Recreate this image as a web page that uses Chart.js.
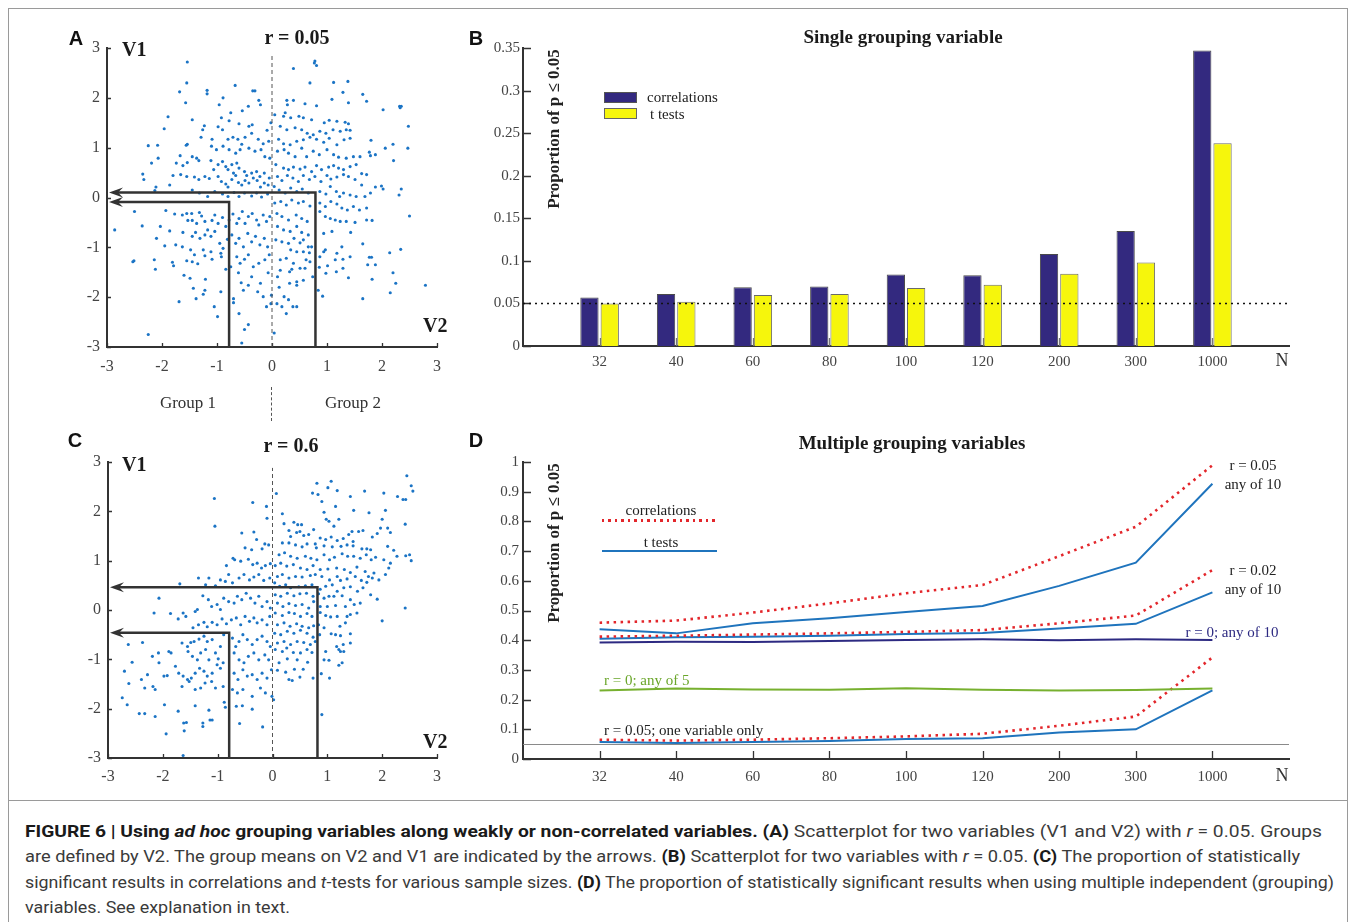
<!DOCTYPE html>
<html>
<head>
<meta charset="utf-8">
<script src="https://cdn.jsdelivr.net/npm/chart.js@4.4.1/dist/chart.umd.min.js"></script>
<style>
  body { margin: 0; background: #fff; width: 1355px; height: 922px; position: relative; overflow: hidden;
         font-family: 'Liberation Serif', 'Times New Roman', serif; color: #222; }
  canvas { position: absolute; }
  .t { position: absolute; white-space: nowrap; line-height: 1; }
  .c { transform: translate(-50%, -50%); }
  .l { transform: translateY(-50%); }
  .letter { font-family: 'Liberation Sans', Arial, sans-serif; font-weight: bold; font-size: 20px; color: #111; }
  .big { font-weight: bold; font-size: 20px; color: #1a1a1a; }
  .title { font-weight: bold; font-size: 19px; color: #1a1a1a; }
  .ytitle { font-weight: bold; font-size: 17px; color: #222; transform: translate(-50%, -50%) rotate(-90deg); }
  .note { font-size: 15px; color: #222; }
  .frame { position: absolute; border: 1px solid #9a9a9a; box-sizing: border-box; }
  .cap { position: absolute; left: 25px; white-space: nowrap; font-family: Roboto, 'Liberation Sans', sans-serif;
         font-size: 17px; color: #3a3a3a; transform-origin: 0 50%; transform: translateY(-50%); line-height: 1; }
  .cap b { color: #1a1a1a; }
</style>
</head>
<body>
<div class="frame" style="left:8px; top:8px; width:1340px; height:793px;"></div>
<div class="frame" style="left:8px; top:800px; width:1340px; height:140px;"></div>

<canvas id="chartA" width="400" height="370" style="left:60px; top:30px;"></canvas>
<canvas id="chartB" width="830" height="355" style="left:470px; top:30px;"></canvas>
<canvas id="chartC" width="400" height="355" style="left:60px; top:440px;"></canvas>
<canvas id="chartD" width="830" height="355" style="left:470px; top:440px;"></canvas>

<!-- panel A labels -->
<div class="t c letter" style="left:76px; top:38px;">A</div>
<div class="t c big" style="left:297px; top:37px;">r = 0.05</div>
<div class="t l big" style="left:122px; top:49px;">V1</div>
<div class="t l big" style="left:423px; top:325px;">V2</div>
<div class="t c" style="left:188px; top:402px; font-size:17px; color:#333;">Group 1</div>
<div class="t c" style="left:353px; top:402px; font-size:17px; color:#333;">Group 2</div>
<div style="position:absolute; left:271px; top:387px; height:34px; border-left:1px dashed #555;"></div>

<!-- panel C labels -->
<div class="t c letter" style="left:75px; top:440px;">C</div>
<div class="t c big" style="left:291px; top:445px;">r = 0.6</div>
<div class="t l big" style="left:122px; top:464px;">V1</div>
<div class="t l big" style="left:423px; top:741px;">V2</div>

<!-- panel B labels -->
<div class="t c letter" style="left:476px; top:38px;">B</div>
<div class="t c title" style="left:903px; top:36px;">Single grouping variable</div>
<div class="t ytitle" style="left:553px; top:129px;">Proportion of p ≤ 0.05</div>
<div style="position:absolute; left:604px; top:92px; width:31px; height:9px; background:#33297f; border:1px solid #555;"></div>
<div style="position:absolute; left:604px; top:108px; width:31px; height:9px; background:#f6f60c; border:1px solid #666;"></div>
<div class="t l note" style="left:647px; top:97px;">correlations</div>
<div class="t l note" style="left:650px; top:114px;">t tests</div>
<div class="t c" style="left:1282px; top:360px; font-size:18px; color:#333;">N</div>

<!-- panel D labels -->
<div class="t c letter" style="left:476px; top:440px;">D</div>
<div class="t c title" style="left:912px; top:442px;">Multiple grouping variables</div>
<div class="t ytitle" style="left:553px; top:543px;">Proportion of p ≤ 0.05</div>
<div class="t c note" style="left:661px; top:510px;">correlations</div>
<div style="position:absolute; left:602px; top:519px; width:114px; height:2.5px;
            background:repeating-linear-gradient(90deg, #e3262b 0 2.5px, transparent 2.5px 6.5px);"></div>
<div class="t c note" style="left:661px; top:542px;">t tests</div>
<div style="position:absolute; left:602px; top:550px; width:115px; height:2px; background:#1f74bd;"></div>
<div class="t c note" style="left:1253px; top:465px;">r = 0.05</div>
<div class="t c note" style="left:1253px; top:484px;">any of 10</div>
<div class="t c note" style="left:1253px; top:570px;">r = 0.02</div>
<div class="t c note" style="left:1253px; top:589px;">any of 10</div>
<div class="t c note" style="left:1232px; top:632px; color:#2d2a82;">r = 0; any of 10</div>
<div class="t l note" style="left:604px; top:680px; color:#6aa62a;">r = 0; any of 5</div>
<div class="t l note" style="left:604px; top:730px;">r = 0.05; one variable only</div>
<div class="t c" style="left:1282px; top:775px; font-size:18px; color:#333;">N</div>

<!-- caption -->
<div class="cap" data-w="1297" style="top:831px;"><b>FIGURE 6 | Using <i>ad hoc</i> grouping variables along weakly or non-correlated variables. (A)</b> Scatterplot for two variables (V1 and V2) with <i>r</i> = 0.05. Groups</div>
<div class="cap" data-w="1275" style="top:856px;">are defined by V2. The group means on V2 and V1 are indicated by the arrows. <b>(B)</b> Scatterplot for two variables with <i>r</i> = 0.05. <b>(C)</b> The proportion of statistically</div>
<div class="cap" data-w="1309" style="top:882px;">significant results in correlations and <i>t</i>-tests for various sample sizes. <b>(D)</b> The proportion of statistically significant results when using multiple independent (grouping)</div>
<div class="cap" data-w="265" style="top:907px;">variables. See explanation in text.</div>

<script>
// ---- data ----
const sampleSizes = ['32', '40', '60', '80', '100', '120', '200', '300', '1000'];
const alphaLevel = 0.05;

// panel B: proportion of p <= .05, single grouping variable
const corrSingle = [0.057, 0.061, 0.069, 0.070, 0.084, 0.083, 0.108, 0.135, 0.347];
const ttestSingle = [0.050, 0.052, 0.060, 0.061, 0.068, 0.072, 0.085, 0.098, 0.238];

// panel D: multiple grouping variables
const corrAny10r05 = [0.459, 0.466, 0.493, 0.524, 0.558, 0.586, 0.683, 0.782, 0.989];
const ttestAny10r05 = [0.437, 0.423, 0.457, 0.474, 0.495, 0.515, 0.583, 0.661, 0.927];
const corrAny10r02 = [0.412, 0.415, 0.419, 0.423, 0.428, 0.434, 0.457, 0.483, 0.636];
const ttestAny10r02 = [0.405, 0.410, 0.412, 0.415, 0.421, 0.424, 0.439, 0.455, 0.561];
const any10r0 = [0.392, 0.395, 0.394, 0.397, 0.401, 0.403, 0.400, 0.403, 0.401];
const any5r0 = [0.231, 0.237, 0.234, 0.233, 0.238, 0.233, 0.231, 0.232, 0.237];
const corrOneVar = [0.065, 0.062, 0.065, 0.070, 0.076, 0.085, 0.112, 0.143, 0.342];
const ttestOneVar = [0.057, 0.054, 0.057, 0.061, 0.067, 0.070, 0.089, 0.100, 0.231];

// group means [V2, V1] for group 1 and group 2
const meansA = [[-0.78, -0.09], [0.79, 0.10]];
const meansC = [[-0.79, -0.46], [0.82, 0.46]];

// panel A scatter (V2, V1), r = 0.05
const scatterA = [
[-1.54,2.72],[-1.55,2.30],[-1.68,2.12],[-1.18,2.15],[-1.18,2.08],[-0.67,2.25],[-0.35,2.14],[-0.31,2.14],[-1.57,1.90],[-0.96,1.86],[-0.89,2.00],[-0.24,1.95],[-0.21,1.86],[-0.43,1.83],[-1.89,1.62],[-1.96,1.38],[-1.45,1.56],[-1.23,1.44],[-0.75,1.70],[-0.54,1.74],[-0.92,1.60],[-0.78,1.54],[-0.60,1.48],[-0.42,1.43],[-0.36,1.46],[-0.09,1.35],[-0.02,1.50],[-2.25,1.04],[-2.08,1.05],[-2.07,0.79],[-2.19,0.69],[-1.56,1.05],[-1.54,1.07],[-1.67,0.84],[-1.62,0.64],[-1.45,0.82],[-1.37,0.79],[-1.26,1.36],[-1.29,1.21],[-1.09,1.17],[-0.98,1.42],[-0.90,1.36],[-0.80,1.17],[-0.71,1.21],[-0.62,1.17],[-0.55,1.07],[-0.49,1.21],[-0.37,1.29],[-0.25,1.17],[-0.16,1.08],[-0.06,1.13],[-1.10,1.03],[-1.01,0.96],[-0.89,1.03],[-0.78,0.96],[-0.66,0.89],[-0.58,0.96],[-0.42,0.99],[-0.31,0.93],[-0.20,0.96],[-0.13,0.82],[-0.04,0.79],[-1.74,0.69],[-1.54,0.70],[-1.33,0.74],[-1.11,0.74],[-1.06,0.56],[-0.98,0.66],[-0.90,0.72],[-0.84,0.62],[-0.80,0.56],[-0.73,0.66],[-0.70,0.49],[-0.64,0.69],[-0.60,0.59],[-0.50,0.52],[-0.46,0.44],[-0.37,0.49],[-0.28,0.52],[-0.22,0.42],[-0.14,0.49],[-0.05,0.39],[-2.35,0.47],[-2.33,0.36],[-2.11,0.21],[-1.86,0.25],[-1.80,0.44],[-1.66,0.46],[-1.55,0.42],[-1.41,0.41],[-1.33,0.36],[-1.22,0.42],[-1.14,0.38],[-0.98,0.42],[-0.92,0.32],[-0.84,0.27],[-0.80,0.21],[-0.73,0.36],[-0.66,0.44],[-0.61,0.30],[-0.55,0.25],[-0.49,0.34],[-0.42,0.29],[-0.34,0.39],[-0.27,0.34],[-0.21,0.21],[-0.14,0.29],[-0.07,0.25],[-2.13,0.14],[-1.45,0.15],[-1.32,0.09],[-1.17,0.02],[-1.04,0.12],[-0.90,0.07],[-0.80,0.02],[-0.69,0.10],[-0.60,0.02],[-0.50,0.09],[-0.37,0.03],[-0.28,0.09],[-0.19,0.01],[-0.08,0.07],
[-2.50,-0.28],[-2.86,-0.65],[-2.36,-0.57],[-2.10,-0.82],[-2.03,-0.58],[-1.93,-0.26],[-1.86,-0.67],[-1.77,-0.33],[-1.75,-0.95],[-1.95,-0.97],[-2.51,-1.27],[-2.14,-1.25],[-2.12,-1.44],[-1.81,-1.30],[-1.79,-1.37],[-1.63,-0.35],[-1.55,-0.32],[-1.53,-0.46],[-1.46,-0.32],[-1.45,-0.46],[-1.37,-0.52],[-1.32,-0.30],[-1.28,-0.37],[-1.22,-0.48],[-1.17,-0.65],[-1.09,-0.46],[-1.04,-0.35],[-0.98,-0.52],[-0.90,-0.40],[-0.84,-0.58],[-0.78,-0.45],[-0.71,-0.33],[-0.64,-0.52],[-0.60,-0.42],[-0.54,-0.28],[-0.49,-0.52],[-0.43,-0.38],[-0.36,-0.32],[-0.28,-0.45],[-0.24,-0.55],[-0.16,-0.35],[-0.10,-0.48],[-0.04,-0.38],[-1.62,-0.70],[-1.45,-0.78],[-1.39,-0.70],[-1.31,-0.82],[-1.22,-0.75],[-1.11,-0.78],[-1.04,-0.68],[-0.95,-0.92],[-0.89,-1.02],[-0.81,-0.84],[-0.73,-0.75],[-0.66,-0.92],[-0.60,-0.82],[-0.52,-0.99],[-0.44,-0.72],[-0.37,-0.89],[-0.30,-0.78],[-0.22,-0.95],[-0.14,-0.82],[-0.08,-0.99],[-1.48,-1.05],[-1.41,-1.15],[-1.63,-0.99],[-1.55,-1.27],[-1.45,-1.29],[-1.35,-1.33],[-1.25,-1.05],[-1.22,-1.17],[-1.11,-1.09],[-1.09,-1.24],[-0.93,-1.12],[-0.92,-1.19],[-0.84,-1.44],[-0.75,-1.39],[-0.64,-1.19],[-0.58,-1.32],[-0.50,-1.24],[-0.43,-1.15],[-0.34,-1.39],[-0.24,-1.32],[-0.13,-1.25],[-0.05,-1.15],[-1.60,-1.56],[-1.49,-1.62],[-1.43,-1.82],[-1.38,-2.03],[-1.25,-1.94],[-1.22,-1.86],[-1.21,-1.64],[-0.93,-1.89],[-0.61,-1.51],[-0.56,-1.71],[-0.52,-1.86],[-0.43,-1.76],[-0.37,-1.59],[-0.26,-1.89],[-0.21,-1.72],[-0.16,-1.99],[-0.07,-1.51],[-0.02,-2.13],[-1.69,-2.09],[-1.05,-2.19],[-0.99,-2.39],[-0.70,-2.03],[-0.70,-2.11],[-0.60,-2.33],[-0.50,-2.65],[-0.43,-2.55],[-0.55,-2.92],[-2.25,-2.75],[-0.10,-2.19],[-0.01,-1.96],[-2.53,-1.29],
[0.78,2.74],[0.81,2.65],[0.77,2.70],[0.39,2.59],[1.12,2.31],[1.38,2.33],[0.69,2.30],[1.29,2.11],[1.65,2.07],[1.72,1.93],[2.35,1.83],[2.33,1.80],[2.02,1.76],[0.27,1.95],[0.39,1.95],[0.28,1.86],[0.60,1.88],[0.81,1.84],[1.09,1.97],[1.39,1.90],[0.05,1.66],[0.24,1.70],[0.21,1.63],[0.34,1.60],[0.49,1.63],[0.57,1.60],[0.72,1.56],[0.95,1.50],[1.04,1.55],[1.18,1.53],[1.33,1.51],[1.39,1.48],[2.48,1.43],[0.15,1.43],[0.27,1.36],[0.42,1.40],[0.54,1.36],[0.64,1.29],[0.75,1.26],[0.87,1.33],[0.98,1.29],[1.11,1.36],[1.24,1.33],[1.35,1.36],[1.42,1.35],[0.12,1.17],[0.21,1.08],[0.33,1.06],[0.45,1.13],[0.57,1.16],[0.69,1.21],[0.81,1.17],[0.94,1.11],[1.04,1.19],[1.18,1.06],[1.31,1.16],[1.42,1.19],[1.80,1.15],[2.06,0.99],[2.20,1.07],[2.47,0.99],[0.10,0.93],[0.22,0.96],[0.30,0.89],[0.42,0.82],[0.54,0.99],[0.63,0.82],[0.75,0.93],[0.86,0.86],[1.00,0.96],[1.12,0.86],[1.21,0.81],[1.35,0.79],[1.48,0.82],[1.60,0.82],[1.77,0.91],[1.88,0.86],[1.79,0.84],[2.21,0.74],[0.07,0.66],[0.21,0.59],[0.30,0.56],[0.39,0.61],[0.51,0.57],[0.60,0.61],[0.72,0.52],[0.81,0.64],[0.90,0.56],[1.03,0.61],[1.12,0.64],[1.21,0.59],[1.30,0.56],[1.42,0.62],[1.53,0.66],[1.63,0.48],[1.72,0.46],[0.10,0.42],[0.18,0.34],[0.28,0.44],[0.38,0.39],[0.48,0.32],[0.57,0.44],[0.68,0.36],[0.78,0.42],[0.89,0.32],[1.00,0.44],[1.07,0.37],[1.18,0.41],[1.30,0.46],[1.39,0.42],[1.51,0.36],[1.63,0.25],[1.88,0.21],[1.99,0.23],[2.02,0.17],[2.35,0.17],[2.31,0.05],[0.04,0.22],[0.13,0.15],[0.24,0.09],[0.34,0.19],[0.45,0.12],[0.55,0.17],[0.66,0.09],[0.87,0.12],[0.98,0.07],[1.06,0.22],[1.17,0.12],[1.23,0.02],[1.42,0.05],[1.53,0.02],[1.69,0.02],[1.79,0.09],[1.30,0.09],
[0.05,-0.11],[0.16,-0.08],[0.26,-0.15],[0.36,-0.05],[0.48,-0.11],[0.57,-0.08],[0.69,-0.17],[0.87,-0.11],[0.97,-0.18],[1.07,-0.08],[1.18,-0.13],[1.27,-0.21],[1.37,-0.25],[1.48,-0.18],[1.59,-0.25],[1.72,-0.21],[2.50,-0.37],[0.09,-0.32],[0.18,-0.38],[0.30,-0.45],[0.44,-0.35],[0.54,-0.42],[0.64,-0.48],[0.87,-0.28],[0.97,-0.38],[1.06,-0.42],[1.15,-0.45],[1.24,-0.48],[1.35,-0.48],[1.51,-0.50],[1.72,-0.45],[1.82,-0.46],[0.10,-0.58],[0.21,-0.65],[0.33,-0.68],[0.45,-0.58],[0.54,-0.70],[0.66,-0.75],[0.94,-0.72],[1.09,-0.68],[1.43,-0.70],[0.07,-0.85],[0.18,-0.89],[0.30,-0.92],[0.40,-0.82],[0.51,-0.91],[0.57,-0.85],[0.66,-0.99],[0.34,-1.05],[0.45,-1.09],[0.57,-1.09],[0.68,-1.11],[0.72,-0.99],[0.97,-1.05],[0.94,-1.09],[1.18,-1.12],[1.27,-0.99],[1.65,-0.93],[2.14,-1.11],[2.34,-1.04],[0.15,-1.25],[0.26,-1.22],[0.39,-1.32],[0.62,-1.25],[0.69,-1.29],[0.87,-1.19],[1.15,-1.25],[1.29,-1.24],[1.42,-1.19],[1.77,-1.20],[1.81,-1.20],[0.15,-1.46],[0.32,-1.49],[0.36,-1.44],[0.51,-1.42],[0.60,-1.42],[0.86,-1.40],[1.01,-1.37],[1.17,-1.49],[1.29,-1.42],[1.74,-1.35],[1.88,-1.35],[0.10,-1.59],[0.32,-1.72],[0.45,-1.69],[0.57,-1.66],[0.74,-1.59],[0.98,-1.52],[1.39,-1.61],[1.82,-1.64],[2.20,-1.51],[2.25,-1.72],[2.79,-1.76],[0.13,-1.80],[0.45,-1.76],[0.84,-1.86],[0.92,-1.98],[1.65,-2.03],[2.15,-1.91],[0.22,-1.99],[0.30,-2.05],[0.09,-2.13],[0.18,-2.19],[0.38,-2.19],[0.45,-2.19],[0.26,-2.33],[0.04,-2.72],[2.32,1.83]
];

// panel C scatter (V2, V1), r = 0.6
const scatterC = [
[-1.06,2.26],[-0.36,2.18],[-0.11,2.10],[-0.10,1.86],[-1.05,1.70],[-0.56,1.56],[-0.34,1.58],[-0.29,1.43],[-0.14,1.34],[-0.50,1.26],[-0.38,1.22],[-0.19,1.24],[-0.07,1.32],[-0.72,1.05],[-0.84,0.90],[-0.80,0.72],[-0.69,1.02],[-0.58,0.99],[-0.44,1.03],[-0.36,0.92],[-0.28,0.95],[-0.20,0.85],[-0.13,0.90],[-0.04,0.94],[-1.35,0.65],[-1.16,0.65],[-1.69,0.53],[-1.22,0.51],[-1.04,0.49],[-0.95,0.61],[-0.86,0.58],[-0.73,0.55],[-0.61,0.65],[-0.52,0.72],[-0.42,0.61],[-0.34,0.67],[-0.25,0.72],[-0.16,0.60],[-0.05,0.65],[-2.07,0.24],[-2.16,-0.06],[-1.86,-0.07],[-1.72,-0.18],[-1.63,-0.06],[-1.58,-0.13],[-1.41,-0.03],[-1.37,0.01],[-1.27,0.29],[-1.17,0.21],[-1.11,0.07],[-1.01,0.11],[-0.95,0.01],[-0.89,0.24],[-0.80,0.17],[-0.70,0.14],[-0.64,0.28],[-0.56,0.21],[-0.48,0.34],[-0.40,0.24],[-0.32,0.14],[-0.25,0.28],[-0.19,0.07],[-0.10,0.17],[-0.04,0.04],[-1.45,-0.36],[-1.35,-0.30],[-1.25,-0.25],[-1.19,-0.34],[-1.10,-0.25],[-1.01,-0.30],[-0.92,-0.18],[-0.84,-0.28],[-0.75,-0.20],[-0.66,-0.16],[-0.58,-0.30],[-0.50,-0.13],[-0.42,-0.23],[-0.34,-0.16],[-0.28,-0.26],[-0.19,-0.20],[-0.10,-0.30],[-0.05,-0.13],[-2.63,-0.70],[-2.37,-0.66],[-2.56,-1.06],[-2.19,-0.94],[-2.08,-0.87],[-2.07,-1.07],[-1.89,-0.84],[-1.85,-0.87],[-1.77,-1.14],[-1.65,-0.67],[-1.55,-0.74],[-1.49,-0.66],[-1.54,-0.84],[-1.43,-0.64],[-1.34,-0.59],[-1.25,-0.53],[-1.19,-0.64],[-1.10,-0.60],[-0.95,-0.74],[-0.89,-0.50],[-1.46,-0.94],[-1.37,-1.01],[-1.31,-0.87],[-1.22,-0.80],[-1.16,-1.01],[-1.04,-0.87],[-0.99,-0.99],[-0.90,-1.07],[-1.71,-1.28],[-1.63,-1.34],[-1.55,-1.41],[-1.48,-1.38],[-1.41,-1.28],[-1.33,-1.18],[-1.25,-1.24],[-1.19,-1.34],[-1.10,-1.28],[-1.01,-1.11],[-0.95,-1.18],[-0.73,-0.57],[-0.67,-0.74],[-0.61,-0.64],[-0.54,-0.50],[-0.46,-0.60],[-0.37,-0.70],[-0.28,-0.60],[-0.19,-0.53],[-0.10,-0.64],[-0.04,-0.74],[-0.70,-0.87],[-0.61,-1.01],[-0.52,-1.07],[-0.44,-0.94],[-0.34,-0.87],[-0.25,-1.01],[-0.14,-0.91],[-0.07,-1.01],[-0.70,-1.28],[-0.63,-1.41],[-0.54,-1.21],[-0.46,-1.34],[-0.37,-1.31],[-0.28,-1.41],[-0.19,-1.28],[-0.10,-1.38],[-0.02,-1.21],[-2.70,-1.24],[-2.62,-1.49],[-2.39,-1.41],[-2.28,-1.31],[-2.33,-1.58],[-2.18,-1.55],[-2.14,-1.61],[-1.98,-1.34],[-1.92,-1.33],[-1.65,-1.55],[-1.52,-1.45],[-1.41,-1.61],[-1.31,-1.58],[-1.23,-1.48],[-1.11,-1.45],[-1.04,-1.58],[-0.90,-1.55],[-0.73,-1.61],[-0.64,-1.68],[-0.54,-1.61],[-0.37,-1.75],[-0.22,-1.58],[-0.13,-1.68],[-0.01,-1.75],[-2.74,-1.78],[-2.65,-1.92],[-2.43,-2.10],[-2.33,-2.10],[-2.14,-2.16],[-1.97,-1.92],[-1.72,-2.05],[-1.62,-2.29],[-1.57,-2.28],[-1.61,-2.45],[-1.41,-1.94],[-1.27,-2.29],[-1.27,-2.36],[-1.14,-2.23],[-1.10,-2.23],[-1.16,-2.03],[-0.88,-1.87],[-0.86,-1.97],[-0.66,-1.95],[-0.60,-2.30],[-0.55,-1.94],[-0.37,-2.01],[-0.18,-2.37],[-1.94,-2.51],[-1.63,-2.95],
[2.45,2.72],[2.53,2.52],[2.56,2.41],[0.81,2.57],[1.07,2.61],[1.01,2.48],[1.18,2.42],[0.73,2.37],[0.83,2.34],[0.07,2.36],[1.42,2.30],[1.68,2.41],[2.03,2.37],[2.28,2.30],[2.38,2.24],[2.43,2.24],[0.90,2.20],[1.15,2.10],[1.48,2.02],[1.76,1.97],[2.06,2.02],[0.18,1.95],[0.94,1.98],[0.98,1.84],[1.03,1.80],[1.12,1.70],[1.21,1.84],[2.00,1.84],[2.42,1.74],[0.21,1.75],[0.39,1.78],[0.46,1.73],[0.53,1.73],[0.30,1.61],[0.33,1.49],[0.44,1.57],[0.50,1.59],[0.57,1.51],[0.66,1.53],[0.75,1.63],[0.87,1.46],[0.97,1.43],[1.07,1.48],[1.18,1.41],[1.29,1.45],[1.39,1.53],[1.45,1.59],[1.47,1.39],[1.57,1.59],[1.65,1.61],[1.82,1.48],[1.91,1.55],[1.97,1.66],[2.10,1.66],[2.15,1.57],[0.18,1.36],[0.30,1.36],[0.42,1.32],[0.54,1.28],[0.63,1.34],[0.78,1.34],[0.80,1.26],[0.94,1.30],[1.09,1.28],[1.25,1.29],[1.36,1.32],[1.47,1.30],[1.63,1.24],[1.72,1.24],[1.79,1.22],[2.10,1.29],[2.21,1.21],[2.27,1.09],[2.50,1.12],[2.53,1.00],[0.12,1.12],[0.22,1.16],[0.33,1.09],[0.45,1.05],[0.60,1.09],[0.70,1.05],[0.81,1.02],[0.94,1.12],[1.04,1.02],[1.13,1.07],[1.27,1.14],[1.37,1.09],[1.48,1.09],[1.60,1.05],[1.71,1.12],[1.80,1.02],[1.88,1.07],[2.03,1.02],[2.15,0.95],[0.05,0.90],[0.15,0.95],[0.26,0.89],[0.38,0.92],[0.51,0.85],[0.63,0.82],[0.74,0.90],[0.87,0.82],[1.01,0.83],[1.17,0.85],[1.31,0.82],[1.42,0.76],[1.54,0.87],[1.69,0.78],[1.75,0.68],[1.85,0.75],[2.06,0.72],[2.12,0.85],[0.09,0.68],[0.18,0.72],[0.30,0.65],[0.42,0.68],[0.54,0.67],[0.69,0.70],[0.78,0.72],[0.90,0.68],[1.04,0.61],[1.18,0.68],[1.24,0.60],[1.36,0.63],[1.51,0.68],[1.62,0.60],[1.72,0.56],[1.82,0.65],[1.94,0.61],[0.04,0.55],[0.13,0.48],[0.24,0.51],[0.33,0.45],[0.48,0.47],[0.60,0.49],[0.72,0.51],[0.87,0.42],[0.97,0.48],[1.09,0.51],[1.18,0.38],[1.30,0.45],[1.42,0.47],[1.55,0.38],[1.65,0.45],[1.79,0.31],[1.91,0.22],[0.05,0.31],[0.15,0.28],[0.27,0.34],[0.39,0.29],[0.50,0.33],[0.62,0.34],[0.74,0.28],[0.84,0.33],[0.94,0.24],[1.03,0.28],[1.12,0.28],[1.27,0.29],[1.42,0.21],[1.49,0.11],[1.60,0.14],[2.42,0.04],[0.09,0.14],[0.19,0.07],[0.30,0.13],[0.42,0.09],[0.54,0.11],[0.66,0.04],[0.75,0.17],[0.87,0.07],[1.00,0.07],[1.15,0.09],[1.33,0.07],[1.54,-0.06],[0.05,-0.06],[0.18,-0.11],[0.30,-0.05],[0.40,-0.07],[0.51,-0.13],[0.63,-0.07],[0.72,-0.13],[0.87,-0.05],[0.97,-0.11],[1.06,-0.14],[1.18,-0.13],[1.36,-0.13],[1.42,-0.09],[2.00,-0.22],[0.09,-0.30],[0.21,-0.26],[0.32,-0.33],[0.44,-0.28],[0.54,-0.33],[0.66,-0.36],[0.75,-0.32],[0.84,-0.30],[0.94,-0.36],[1.07,-0.48],[1.23,-0.33],[1.33,-0.26],[0.04,-0.47],[0.15,-0.50],[0.27,-0.43],[0.39,-0.47],[0.51,-0.41],[0.63,-0.47],[0.74,-0.55],[0.86,-0.50],[1.15,-0.50],[1.24,-0.52],[1.42,-0.48],[0.09,-0.67],[0.21,-0.64],[0.33,-0.70],[0.45,-0.64],[0.57,-0.66],[0.69,-0.70],[0.78,-0.64],[1.17,-0.74],[0.05,-0.80],[0.18,-0.84],[0.26,-0.77],[0.38,-0.86],[0.51,-0.87],[0.63,-0.80],[0.72,-0.86],[0.97,-0.84],[1.21,-0.80],[1.24,-0.84],[1.29,-0.70],[1.42,-0.67],[0.12,-1.07],[0.27,-0.99],[0.45,-1.01],[0.64,-1.06],[0.94,-1.01],[1.03,-1.02],[1.21,-1.12],[1.27,-1.07],[0.09,-1.22],[0.24,-1.26],[0.40,-1.20],[0.56,-1.20],[0.30,-1.41],[0.36,-1.43],[0.50,-1.36],[0.74,-1.38],[0.89,-1.29],[1.04,-1.38],[0.02,-1.82],[0.90,-2.12],[2.43,1.10],[1.30,-0.84]
];

// ---- drawing helpers ----
Chart.defaults.font.family = "'Liberation Serif', 'Times New Roman', serif";
Chart.defaults.color = '#444';

const DOT = '#1b74c5';
const RED = '#e3262b';
const BLUE = '#1f74bd';
const NAVY = '#2d2a82';
const GREEN = '#77b02f';

// MATLAB-like tick text: 0.1 rather than 0.10
const shortNum = (v) => String(+Number(v).toFixed(2));

function innerTicks(chart, len, xColor, yColor) {
  const { ctx, scales: { x, y } } = chart;
  ctx.save();
  ctx.lineWidth = 1.3;
  ctx.strokeStyle = xColor;
  ctx.beginPath();
  x.ticks.forEach((t, i) => {
    if (x.type === 'category' && !x.getLabelForValue(t.value)) return;
    const px = Math.round(x.getPixelForTick(i)) + 0.5;
    ctx.moveTo(px, y.bottom);
    ctx.lineTo(px, y.bottom - len);
  });
  ctx.stroke();
  ctx.strokeStyle = yColor;
  ctx.beginPath();
  y.ticks.forEach((t, i) => {
    const py = Math.round(y.getPixelForTick(i)) + 0.5;
    ctx.moveTo(x.left, py);
    ctx.lineTo(x.left + len, py);
  });
  ctx.stroke();
  ctx.restore();
}

function zeroDash(chart) {
  const { ctx, scales: { x, y } } = chart;
  const px = x.getPixelForValue(0);
  ctx.save();
  ctx.strokeStyle = '#555';
  ctx.lineWidth = 1;
  ctx.setLineDash([4, 3]);
  ctx.beginPath();
  ctx.moveTo(px, y.bottom);
  ctx.lineTo(px, y.getPixelForValue(2.88));
  ctx.stroke();
  ctx.restore();
}

function meanArrows(chart, means) {
  const { ctx, scales: { x, y } } = chart;
  ctx.save();
  ctx.strokeStyle = '#333';
  ctx.fillStyle = '#333';
  ctx.lineWidth = 2.5;
  means.forEach(([mx, my]) => {
    const px = x.getPixelForValue(mx);
    const py = y.getPixelForValue(my);
    const tip = x.left + 2;
    ctx.beginPath();
    ctx.moveTo(px, y.bottom);
    ctx.lineTo(px, py);
    ctx.lineTo(tip + 8, py);
    ctx.stroke();
    ctx.beginPath();
    ctx.moveTo(tip, py);
    ctx.lineTo(tip + 14, py - 5);
    ctx.lineTo(tip + 9, py);
    ctx.lineTo(tip + 14, py + 5);
    ctx.closePath();
    ctx.fill();
  });
  ctx.restore();
}

function hLine(chart, value, color, width, dash) {
  const { ctx, chartArea, scales: { y } } = chart;
  const py = Math.round(y.getPixelForValue(value)) + 0.5;
  ctx.save();
  ctx.strokeStyle = color;
  ctx.lineWidth = width;
  ctx.setLineDash(dash);
  ctx.beginPath();
  ctx.moveTo(chartArea.left, py);
  ctx.lineTo(chartArea.right, py);
  ctx.stroke();
  ctx.restore();
}

function fixWidth(w) { return (s) => { s.width = w; }; }
function fixHeight(h) { return (s) => { s.height = h; }; }

function scatterChart(id, points, means, geo) {
  return new Chart(document.getElementById(id), {
    type: 'scatter',
    data: {
      datasets: [{
        data: points.map(([vx, vy]) => ({ x: vx, y: vy })),
        backgroundColor: DOT,
        borderWidth: 0,
        pointRadius: 1.55
      }]
    },
    options: {
      responsive: false,
      animation: false,
      events: [],
      layout: { padding: { top: geo.top, right: geo.right, left: 0, bottom: 0 } },
      plugins: { legend: { display: false }, tooltip: { enabled: false } },
      scales: {
        x: {
          type: 'linear', min: -3, max: 3,
          ticks: { stepSize: 1, padding: geo.xpad, color: '#444', font: { size: 16 }, maxRotation: 0, callback: shortNum },
          grid: { display: false, drawTicks: false },
          border: { display: true, color: '#333', width: 2 },
          afterFit: fixHeight(geo.xh)
        },
        y: {
          type: 'linear', min: -3, max: 3,
          ticks: { stepSize: 1, padding: 7, color: '#444', font: { size: 16 }, callback: shortNum },
          grid: { display: false, drawTicks: false },
          border: { display: true, color: '#333', width: 2 },
          afterFit: fixWidth(geo.yw)
        }
      }
    },
    plugins: [{
      id: 'decor' + id,
      afterDatasetsDraw(chart) {
        innerTicks(chart, 4, '#333', '#333');
        zeroDash(chart);
        meanArrows(chart, means);
      }
    }]
  });
}

scatterChart('chartA', scatterA, meansA, { top: 18, right: 23, xh: 53, yw: 47, xpad: 10 });
scatterChart('chartC', scatterC, meansC, { top: 22, right: 23, xh: 37, yw: 48, xpad: 9 });

const paddedLabels = ['', ...sampleSizes, ''];
const pad = (arr) => [null, ...arr, null];

function catAxis(xh, xpad) {
  return {
    type: 'category', offset: false,
    ticks: { autoSkip: false, maxRotation: 0, padding: xpad, color: '#444', font: { size: 15 } },
    grid: { display: false, drawTicks: false },
    border: { display: true, color: '#333', width: 2 },
    afterFit: fixHeight(xh)
  };
}

// panel B
new Chart(document.getElementById('chartB'), {
  type: 'bar',
  data: {
    labels: paddedLabels,
    datasets: [
      { label: 'correlations', data: pad(corrSingle), backgroundColor: '#33297f', borderColor: '#4a4a4a',
        borderWidth: 1, categoryPercentage: 0.53, barPercentage: 0.9 },
      { label: 't tests', data: pad(ttestSingle), backgroundColor: '#f6f60c', borderColor: '#6a6a6a',
        borderWidth: 1, categoryPercentage: 0.53, barPercentage: 0.9 }
    ]
  },
  options: {
    responsive: false,
    animation: false,
    events: [],
    layout: { padding: { top: 18, right: 11, left: 0, bottom: 0 } },
    plugins: { legend: { display: false }, tooltip: { enabled: false } },
    scales: {
      x: catAxis(39, 7),
      y: {
        min: 0, max: 0.35,
        ticks: { stepSize: 0.05, padding: 3, color: '#444', font: { size: 15 }, callback: shortNum },
        grid: { display: false, drawTicks: false },
        border: { display: true, color: '#333', width: 2 },
        afterFit: fixWidth(53)
      }
    }
  },
  plugins: [{
    id: 'decorB',
    beforeDatasetsDraw(chart) { innerTicks(chart, 8, '#777', '#333'); },
    afterDatasetsDraw(chart) { hLine(chart, alphaLevel, '#111', 1.3, [2, 4]); }
  }]
});

// panel D
function lineSet(data, color, dotted, width) {
  return {
    data: pad(data), borderColor: color, borderWidth: width || 2, pointRadius: 0,
    tension: 0, fill: false, spanGaps: false,
    borderDash: dotted ? [2.5, 4.5] : [], borderCapStyle: 'butt'
  };
}

new Chart(document.getElementById('chartD'), {
  type: 'line',
  data: {
    labels: paddedLabels,
    datasets: [
      lineSet(corrAny10r05, RED, true, 2.6),
      lineSet(ttestAny10r05, BLUE, false),
      lineSet(corrAny10r02, RED, true, 2.6),
      lineSet(ttestAny10r02, BLUE, false),
      lineSet(any10r0, NAVY, false),
      lineSet(any5r0, GREEN, false),
      lineSet(corrOneVar, RED, true, 2.6),
      lineSet(ttestOneVar, BLUE, false)
    ]
  },
  options: {
    responsive: false,
    animation: false,
    events: [],
    layout: { padding: { top: 22, right: 11, left: 0, bottom: 0 } },
    plugins: { legend: { display: false }, tooltip: { enabled: false } },
    scales: {
      x: catAxis(36, 9),
      y: {
        min: 0, max: 1,
        ticks: { stepSize: 0.1, padding: 4, color: '#444', font: { size: 15 }, callback: shortNum },
        grid: { display: false, drawTicks: false },
        border: { display: true, color: '#333', width: 2 },
        afterFit: fixWidth(53)
      }
    }
  },
  plugins: [{
    id: 'decorD',
    beforeDatasetsDraw(chart) { hLine(chart, alphaLevel, '#8a8a8a', 1.2, []); },
    afterDatasetsDraw(chart) { innerTicks(chart, 8, '#333', '#333'); }
  }]
});

// fit caption lines to the measured widths of the original
function fitCaption() {
  document.querySelectorAll('.cap').forEach((el) => {
    el.style.transform = 'translateY(-50%)';
    const s = (+el.dataset.w) / el.getBoundingClientRect().width;
    el.style.transform = 'translateY(-50%) scaleX(' + s.toFixed(4) + ')';
  });
}
fitCaption();
</script>
</body>
</html>
